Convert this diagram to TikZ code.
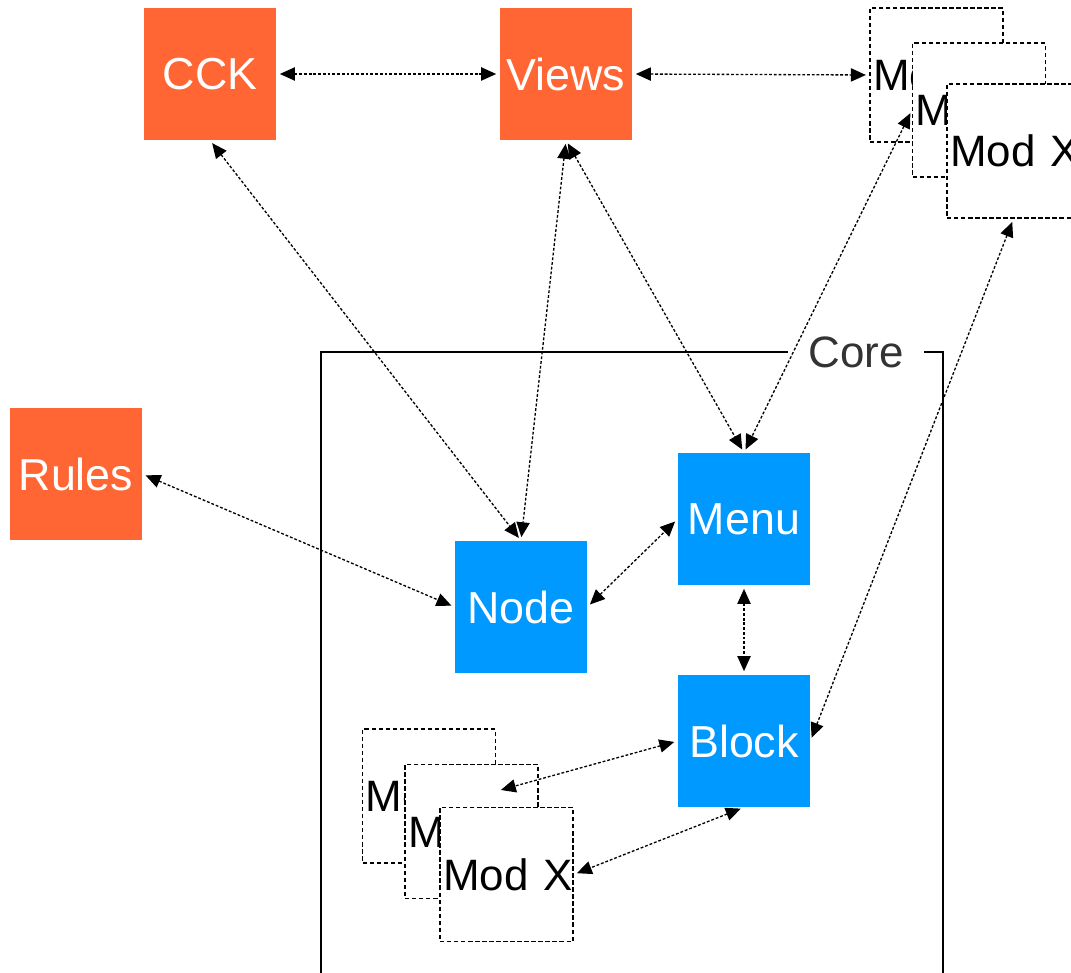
\documentclass[tikz,border=0pt]{standalone}
\usepackage{fontspec}
\setmainfont{Liberation Sans}
\usetikzlibrary{arrows.meta}
\definecolor{extorange}{HTML}{FF6633}
\definecolor{coreblue}{HTML}{0099FF}
\definecolor{coregray}{HTML}{333333}

\begin{document}
\begin{tikzpicture}[x=0.02cm, y=-0.02cm,
		box/.style={minimum width=2.64cm, minimum height=2.64cm, inner sep=0pt,
			text=white, font=\fontsize{25.5}{30}\selectfont},
		extbox/.style={box, fill=extorange},
		corebox/.style={box, fill=coreblue},
		modbox/.style={draw, fill=white, dash pattern=on 2.5pt off 1.5pt, line width=0.7pt,
			text width=2.54cm, minimum height=2.68cm, inner xsep=0.06cm, inner ysep=0pt,
			align=left, font=\fontsize{25}{30}\selectfont},
		link/.style={{Triangle[length=8.5pt,width=7.5pt]}-{Triangle[length=8.5pt,width=7.5pt]},
			dash pattern=on 1.6pt off 1.1pt, line width=0.75pt, shorten <=2pt, shorten >=2pt}]

			\useasboundingbox (0,0) rectangle (1071,973);

			% Rahmen Core
			\draw[line width=0.8pt] (321,352) rectangle (943,1000);
			\node[fill=white, text=coregray, inner xsep=0.4cm, inner ysep=2pt,
				font=\fontsize{25}{30}\selectfont] (corelabel) at (856,352) {Core};

			% externe Module
			\node[extbox] (cck) at (210,74) {CCK};
			\node[extbox] (views) at (566,74) {Views};
			\node[extbox] (rules) at (76,474) {Rules};

			% Kern
			\node[corebox] (menu) at (744,519) {Menu};
			\node[corebox] (nodebox) at (521,607) {Node};
			\node[corebox] (block) at (744,741) {Block};

			% Modulstapel oben rechts
			\node[modbox] (moda) at (936.5,75) {Mod~X};
			\node[modbox] (modb) at (979,110) {Mod~X};
			\node[modbox] (modc) at (1013.5,151) {Mod~X};

			% Modulstapel im Kern
			\node[modbox] (modd) at (429,796) {Mod~X};
			\node[modbox] (mode) at (471.5,831.5) {Mod~X};
			\node[modbox] (modf) at (506.5,874.5) {Mod~X};

			% Verbindungen
			\draw[link] (cck.east) -- (views.west);
			\draw[link] (views.east) -- (moda.west);
			\draw[link] (cck.south) -- (nodebox.north);
			\draw[link] (views.south) -- (nodebox.north);
			\draw[link] (views.south) -- (menu.north);
			\draw[link] (modb.west) -- (menu.north);
			\draw[link] (rules.east) -- (nodebox.west);
			\draw[link] (nodebox.east) -- (menu.west);
			\draw[link] (menu.south) -- (block.north);
			\draw[link] (block.east) -- (modc.south);
			\draw[link] (block.west) -- ([xshift=0.52cm, yshift=-0.54cm]mode.north);
			\draw[link] (block.south) -- (modf.east);

		\end{tikzpicture}
\end{document}
